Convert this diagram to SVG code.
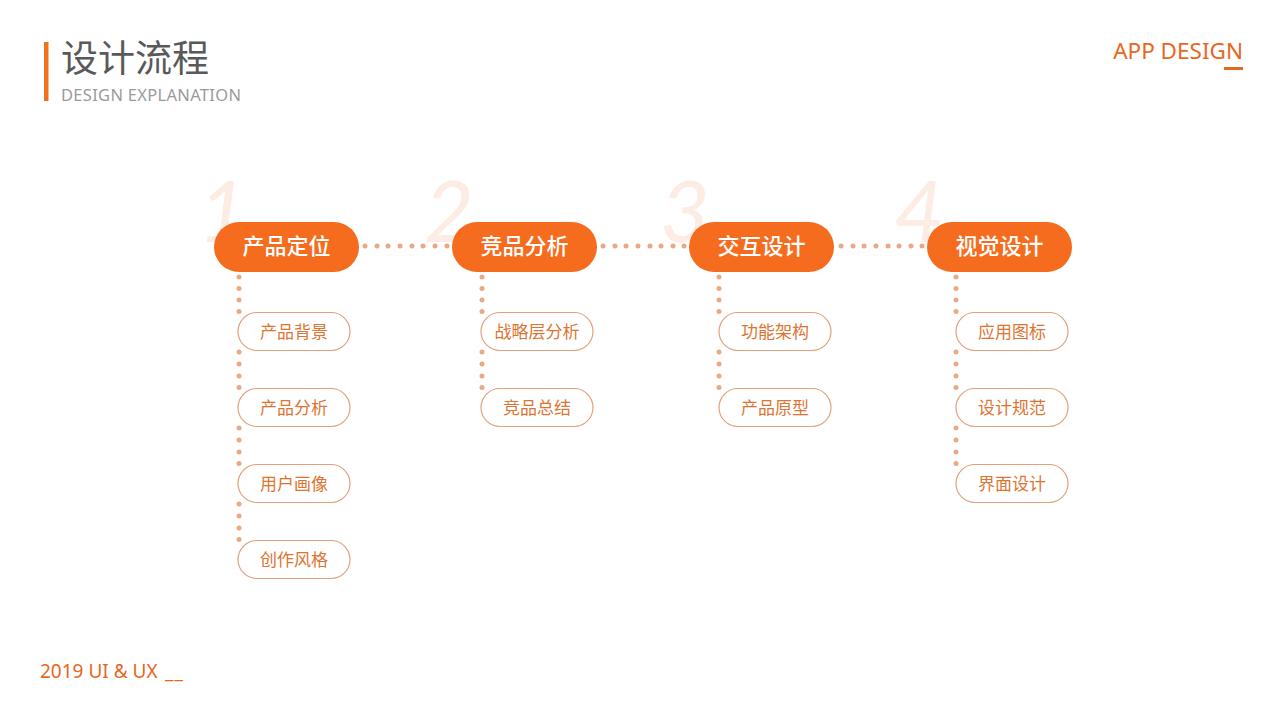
<svg xmlns="http://www.w3.org/2000/svg" width="1280" height="720" viewBox="0 0 1280 720">
<style>
.cn{font-family:"Noto Sans CJK SC","Noto Sans",sans-serif}
.lat{font-family:"Noto Sans","Liberation Sans",sans-serif}
.num{font-family:"Lato","Open Sans",sans-serif;font-style:italic;font-weight:400;font-size:86px;fill:#fcece3}
.main rect{fill:#f66c1e}
.main text{fill:#ffffff;font-size:22px;font-weight:500;text-anchor:middle}
.sub rect{fill:#ffffff;stroke:#e3a07a;stroke-width:1.2}
.sub text{fill:#dd7532;font-size:17px;text-anchor:middle}
.dots circle{fill:#eaa984}
</style>
<rect width="1280" height="720" fill="#ffffff"/>
<g id="header">
<rect x="44" y="42" width="4.5" height="59" fill="#f0721f"/>
<text class="cn" x="61" y="72" font-size="37" fill="#595959">设计流程</text>
<text class="lat" x="61" y="101" font-size="16.5" fill="#9a9a9a" letter-spacing="0.3">DESIGN EXPLANATION</text>
<text class="lat" x="1243" y="59" font-size="22.5" fill="#e8671c" text-anchor="end">APP DESIGN</text>
<rect x="1224" y="67" width="19" height="3" fill="#e8671c"/>
<text class="lat" x="40" y="678" font-size="19" fill="#e8671c">2019 UI &amp; UX<tspan x="165" letter-spacing="1">__</tspan></text>
</g>
<g id="numbers">
<text class="num" x="198" y="242">1</text>
<text class="num" x="424" y="242">2</text>
<text class="num" x="660" y="242">3</text>
<text class="num" x="894" y="242">4</text>
</g>
<g id="connectors" class="dots">
<circle cx="365" cy="246" r="2.5"/><circle cx="377" cy="246" r="2.5"/><circle cx="388" cy="246" r="2.5"/><circle cx="400" cy="246" r="2.5"/><circle cx="412" cy="246" r="2.5"/><circle cx="423" cy="246" r="2.5"/><circle cx="435" cy="246" r="2.5"/><circle cx="447" cy="246" r="2.5"/>
<circle cx="603" cy="246" r="2.5"/><circle cx="615" cy="246" r="2.5"/><circle cx="626" cy="246" r="2.5"/><circle cx="638" cy="246" r="2.5"/><circle cx="650" cy="246" r="2.5"/><circle cx="661" cy="246" r="2.5"/><circle cx="673" cy="246" r="2.5"/><circle cx="684" cy="246" r="2.5"/>
<circle cx="841" cy="246" r="2.5"/><circle cx="853" cy="246" r="2.5"/><circle cx="864" cy="246" r="2.5"/><circle cx="876" cy="246" r="2.5"/><circle cx="888" cy="246" r="2.5"/><circle cx="899" cy="246" r="2.5"/><circle cx="911" cy="246" r="2.5"/><circle cx="922" cy="246" r="2.5"/>
<g transform="translate(239,0)">
<circle cx="0" cy="277" r="2.5"/><circle cx="0" cy="288.5" r="2.5"/><circle cx="0" cy="300" r="2.5"/><circle cx="0" cy="311.5" r="2.5"/>
<circle cx="0" cy="352" r="2.5"/><circle cx="0" cy="364" r="2.5"/><circle cx="0" cy="376" r="2.5"/><circle cx="0" cy="387.5" r="2.5"/>
<circle cx="0" cy="428" r="2.5"/><circle cx="0" cy="440" r="2.5"/><circle cx="0" cy="452" r="2.5"/><circle cx="0" cy="463.5" r="2.5"/>
<circle cx="0" cy="504" r="2.5"/><circle cx="0" cy="516" r="2.5"/><circle cx="0" cy="528" r="2.5"/><circle cx="0" cy="539.5" r="2.5"/>
</g>
<g transform="translate(482,0)">
<circle cx="0" cy="277" r="2.5"/><circle cx="0" cy="288.5" r="2.5"/><circle cx="0" cy="300" r="2.5"/><circle cx="0" cy="311.5" r="2.5"/>
<circle cx="0" cy="352" r="2.5"/><circle cx="0" cy="364" r="2.5"/><circle cx="0" cy="376" r="2.5"/><circle cx="0" cy="387.5" r="2.5"/>
</g>
<g transform="translate(719,0)">
<circle cx="0" cy="277" r="2.5"/><circle cx="0" cy="288.5" r="2.5"/><circle cx="0" cy="300" r="2.5"/><circle cx="0" cy="311.5" r="2.5"/>
<circle cx="0" cy="352" r="2.5"/><circle cx="0" cy="364" r="2.5"/><circle cx="0" cy="376" r="2.5"/><circle cx="0" cy="387.5" r="2.5"/>
</g>
<g transform="translate(956,0)">
<circle cx="0" cy="277" r="2.5"/><circle cx="0" cy="288.5" r="2.5"/><circle cx="0" cy="300" r="2.5"/><circle cx="0" cy="311.5" r="2.5"/>
<circle cx="0" cy="352" r="2.5"/><circle cx="0" cy="364" r="2.5"/><circle cx="0" cy="376" r="2.5"/><circle cx="0" cy="387.5" r="2.5"/>
<circle cx="0" cy="428" r="2.5"/><circle cx="0" cy="440" r="2.5"/><circle cx="0" cy="452" r="2.5"/><circle cx="0" cy="463.5" r="2.5"/>
</g>
</g>
<g id="step1" class="main cn"><rect x="214" y="222" width="145" height="50" rx="25"/><text x="286.5" y="254">产品定位</text></g>
<g id="step2" class="main cn"><rect x="452" y="222" width="145" height="50" rx="25"/><text x="524.5" y="254">竞品分析</text></g>
<g id="step3" class="main cn"><rect x="689" y="222" width="145" height="50" rx="25"/><text x="761.5" y="254">交互设计</text></g>
<g id="step4" class="main cn"><rect x="927" y="222" width="145" height="50" rx="25"/><text x="999.5" y="254">视觉设计</text></g>
<g id="s1a" class="sub cn"><rect x="238" y="312.5" width="112" height="38" rx="19"/><text x="294" y="337.5">产品背景</text></g>
<g id="s1b" class="sub cn"><rect x="238" y="388.5" width="112" height="38" rx="19"/><text x="294" y="413.5">产品分析</text></g>
<g id="s1c" class="sub cn"><rect x="238" y="464.5" width="112" height="38" rx="19"/><text x="294" y="489.5">用户画像</text></g>
<g id="s1d" class="sub cn"><rect x="238" y="540.5" width="112" height="38" rx="19"/><text x="294" y="565.5">创作风格</text></g>
<g id="s2a" class="sub cn"><rect x="481" y="312.5" width="112" height="38" rx="19"/><text x="537" y="337.5">战略层分析</text></g>
<g id="s2b" class="sub cn"><rect x="481" y="388.5" width="112" height="38" rx="19"/><text x="537" y="413.5">竞品总结</text></g>
<g id="s3a" class="sub cn"><rect x="719" y="312.5" width="112" height="38" rx="19"/><text x="775" y="337.5">功能架构</text></g>
<g id="s3b" class="sub cn"><rect x="719" y="388.5" width="112" height="38" rx="19"/><text x="775" y="413.5">产品原型</text></g>
<g id="s4a" class="sub cn"><rect x="956" y="312.5" width="112" height="38" rx="19"/><text x="1012" y="337.5">应用图标</text></g>
<g id="s4b" class="sub cn"><rect x="956" y="388.5" width="112" height="38" rx="19"/><text x="1012" y="413.5">设计规范</text></g>
<g id="s4c" class="sub cn"><rect x="956" y="464.5" width="112" height="38" rx="19"/><text x="1012" y="489.5">界面设计</text></g>
</svg>
